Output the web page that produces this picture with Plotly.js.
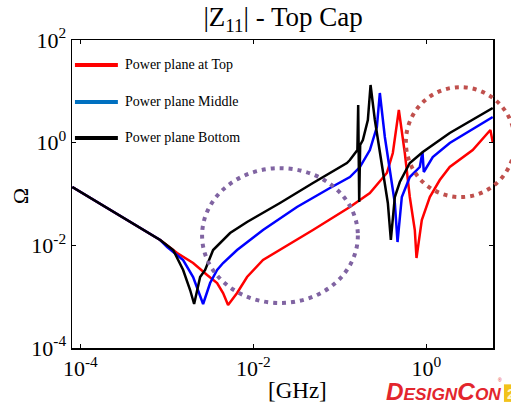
<!DOCTYPE html>
<html>
<head>
<meta charset="utf-8">
<script src="https://cdn.plot.ly/plotly-3.0.1.min.js"></script>
<style>html,body{margin:0;padding:0;background:#fff;}</style>
</head>
<body>
<div id="chart" style="width:511px;height:405px;"></div>
<script>
// ---- data (frequency in GHz, |Z11| in Ohm) ----
const seriesNames = ['Power plane at Top', 'Power plane Middle', 'Power plane Bottom'];
const seriesColors = ['#ff0000', '#0000ff', '#000000'];
const legendColors = ['#ff0000', '#0070c0', '#000000'];

const freqTop = [8.09e-5, 8.38e-4, 1.315e-3, 2.012e-3, 2.92e-3, 3.809e-3, 4.467e-3, 5.10e-3, 6.48e-3, 8.45e-3, 0.01292, 0.0203, 0.0488, 0.1304, 0.2219, 0.3486, 0.4088, 0.4796, 0.5623, 0.642, 0.7335, 0.7674, 0.8836, 1.093, 1.425, 1.858, 3.424, 5.48, 5.83];
const zTop = [0.1368, 0.0127, 7.09e-3, 4.525e-3, 2.641e-3, 1.845e-3, 1.178e-3, 6.88e-4, 1.178e-3, 2.415e-3, 5.18e-3, 8.11e-3, 0.01988, 0.0558, 0.1045, 0.2564, 0.6289, 4.328, 0.6289, 0.0874, 0.01988, 5.66e-3, 0.03113, 0.0874, 0.1874, 0.3356, 0.7194, 1.764, 1.030];

const freqMid = [8.09e-5, 8.38e-4, 1.009e-3, 1.543e-3, 2.012e-3, 2.298e-3, 2.625e-3, 3.162e-3, 3.809e-3, 4.467e-3, 6.48e-3, 0.01292, 0.0319, 0.0767, 0.1304, 0.1702, 0.2219, 0.2673, 0.2893, 0.3305, 0.3776, 0.4311, 0.4632, 0.5192, 0.642, 0.8378, 0.9000, 0.9315, 1.183, 1.858, 5.83];
const zMid = [0.1368, 0.0127, 9.27e-3, 5.18e-3, 2.415e-3, 1.348e-3, 7.19e-4, 1.845e-3, 3.305e-3, 4.525e-3, 8.11e-3, 0.01988, 0.0558, 0.1308, 0.2143, 0.3356, 0.7194, 2.019, 9.28, 1.289, 0.2934, 0.0668, 0.01161, 0.0874, 0.2143, 0.3356, 0.6577, 0.2682, 0.5256, 0.985, 3.162];

const freqBot = [8.09e-5, 8.38e-4, 1.183e-3, 1.543e-3, 1.858e-3, 2.067e-3, 2.424e-3, 2.77e-3, 3.424e-3, 5.38e-3, 8.45e-3, 0.0203, 0.0488, 0.1204, 0.1304, 0.1592, 0.1626, 0.1670, 0.1714, 0.1842, 0.2103, 0.2260, 0.2534, 0.3134, 0.3579, 0.3878, 0.4311, 0.4922, 0.642, 0.9073, 1.858, 5.83];
const zBot = [0.1368, 0.0127, 8.11e-3, 3.305e-3, 1.348e-3, 7.19e-4, 2.415e-3, 3.305e-3, 8.11e-3, 0.01738, 0.02846, 0.0668, 0.1637, 0.4016, 0.4594, 0.7194, 5.416, 0.0698, 0.900, 1.127, 2.764, 13.28, 2.764, 0.2934, 0.0668, 0.0127, 0.0874, 0.1713, 0.4016, 0.6577, 1.543, 4.734];

const xTickVals = [1e-4, 1e-2, 1];
const xTickText = ['10<sup>-4</sup>', '10<sup>-2</sup>', '10<sup>0</sup>'];
const yTickVals = [1e-4, 1e-2, 1, 100];
const yTickText = ['10<sup>-4</sup>', '10<sup>-2</sup>', '10<sup>0</sup>', '10<sup>2</sup>'];

// ---- chart ----
const FONT = 'Liberation Serif, Times New Roman, serif';
const xs = [freqTop, freqMid, freqBot];
const ys = [zTop, zMid, zBot];
const traces = seriesNames.map((n, i) => ({
  x: xs[i], y: ys[i], name: n, type: 'scatter', mode: 'lines',
  line: {color: seriesColors[i], width: 2.5}, showlegend: false
}));

const shapes = [];
const annotations = [];
// custom legend (built from series names)
const legendY = [0.919, 0.799, 0.682];
seriesNames.forEach((n, i) => {
  shapes.push({type: 'line', xref: 'paper', yref: 'paper', x0: 0.007, x1: 0.109, y0: legendY[i], y1: legendY[i],
    line: {color: legendColors[i], width: 4}});
  annotations.push({xref: 'paper', yref: 'paper', x: 0.122, y: legendY[i], xanchor: 'left', yanchor: 'middle',
    text: n, showarrow: false, font: {family: FONT, size: 14, color: '#000'}});
});
// dotted highlight ellipses
shapes.push({type: 'circle', xref: 'paper', yref: 'paper', x0: 0.309, x1: 0.679, y0: 0.146, y1: 0.584,
  line: {color: '#8064a2', width: 4, dash: '4px,5px'}});
shapes.push({type: 'circle', xref: 'paper', yref: 'paper', x0: 0.793, x1: 1.052, y0: 0.490, y1: 0.847,
  line: {color: '#c0504d', width: 4, dash: '4px,5px'}});
// yellow logo tab
shapes.push({type: 'rect', xref: 'paper', yref: 'paper', x0: 1.026, x1: 1.05, y0: -0.175, y1: -0.118,
  line: {width: 0}, fillcolor: '#f2c21b'});

// axis titles
annotations.push({xref: 'paper', yref: 'paper', x: 0.535, y: -0.137, xanchor: 'center', yanchor: 'middle',
  text: '[GHz]', showarrow: false, font: {family: FONT, size: 23, color: '#000'}});
annotations.push({xref: 'paper', yref: 'paper', x: -0.123, y: 0.493, xanchor: 'center', yanchor: 'middle',
  text: 'Ω', textangle: -90, showarrow: false, font: {family: FONT, size: 22, color: '#000'}});
// logo
annotations.push({xref: 'paper', yref: 'paper', x: 0.744, y: -0.14, xanchor: 'left', yanchor: 'middle',
  text: '<b><i>D<span style="font-size:17.3px">ESIGN</span>C<span style="font-size:17.3px">ON</span></i></b>',
  showarrow: false, borderpad: 0, font: {family: 'Liberation Sans Narrow, Liberation Sans, sans-serif', size: 24.3, color: '#e3262d'}});
annotations.push({xref: 'paper', yref: 'paper', x: 1.017, y: -0.105, xanchor: 'center', yanchor: 'middle',
  text: '®', showarrow: false, borderpad: 0, font: {family: 'Liberation Sans', size: 5, color: '#e3262d'}});
annotations.push({xref: 'paper', yref: 'paper', x: 1.03, y: -0.147, xanchor: 'left', yanchor: 'middle',
  text: '<b>2</b>', showarrow: false, borderpad: 0, font: {family: 'Liberation Sans', size: 15, color: '#fff6c8'}});

const axisCommon = {
  type: 'log', showgrid: false, zeroline: false, showline: true, linecolor: '#000', linewidth: 1.5,
  mirror: 'ticks', ticks: 'inside', ticklen: 4, tickwidth: 1, tickcolor: '#000',
  tickfont: {family: FONT, size: 22, color: '#000'}, tickmode: 'array'
};

const layout = {
  width: 511, height: 405,
  margin: {l: 72, r: 18, t: 40, b: 57},
  paper_bgcolor: '#fff', plot_bgcolor: '#fff',
  title: {text: '|Z<sub>11</sub>| - Top Cap', font: {family: FONT, size: 27, color: '#000'},
    x: 0.554, xanchor: 'center', y: 0.958, yanchor: 'middle'},
  xaxis: Object.assign({}, axisCommon, {range: [-4.096, 0.769], tickvals: xTickVals, ticktext: xTickText}),
  yaxis: Object.assign({}, axisCommon, {range: [-4, 2], tickvals: yTickVals, ticktext: yTickText}),
  shapes: shapes, annotations: annotations, showlegend: false
};

Plotly.newPlot('chart', traces, layout, {displayModeBar: false, staticPlot: true});
</script>
</body>
</html>
